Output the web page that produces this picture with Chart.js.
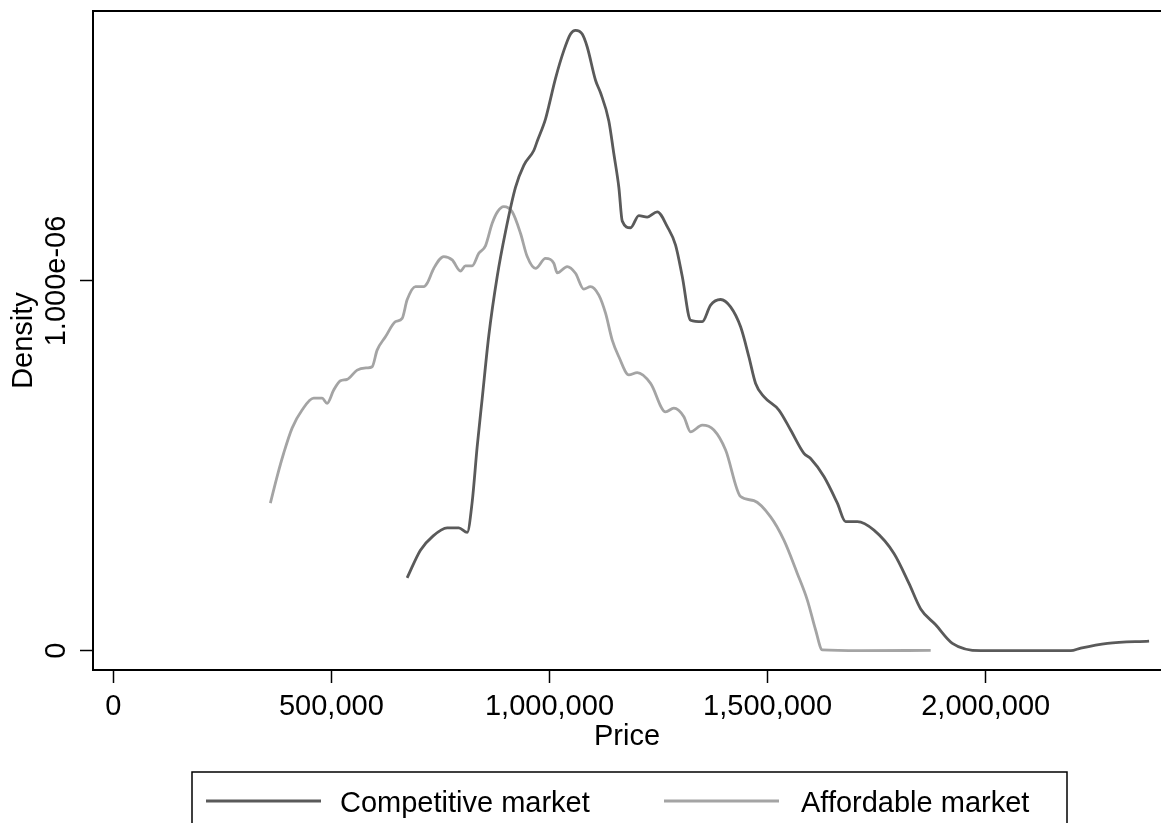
<!DOCTYPE html>
<html>
<head>
<meta charset="utf-8">
<script src="https://cdn.jsdelivr.net/npm/chart.js@4/dist/chart.umd.min.js"></script>
<style>
html, body { margin: 0; padding: 0; background: #ffffff; }
canvas { display: block; }
</style>
</head>
<body>
<canvas id="chart" width="1161" height="823"></canvas>
<script>
// ---- Data ----
const seriesLabels = ['Competitive market', 'Affordable market'];

const competitivePrice = [
  673600, 704100, 731000, 765400, 792000, 811300, 822700, 834200, 845700, 860800,
  880100, 899100, 922000, 941100, 964000, 971800, 990800, 998400, 1013800, 1032800,
  1048200, 1059600, 1075000, 1086500, 1105500, 1117000, 1136000, 1147500, 1159000, 1166800,
  1185800, 1204800, 1224100, 1247000, 1270000, 1289000, 1304400, 1323400, 1350200, 1369300,
  1392200, 1415100, 1438100, 1457100, 1472500, 1491500, 1525900, 1552800, 1583300, 1598600,
  1629100, 1659900, 1678900, 1705800, 1743800, 1789700, 1824100, 1850900, 1885300, 1923600,
  1988600, 2195000, 2217900, 2279100, 2374600
];
// density in units of 1e-6
const competitiveDensity = [
  0.197, 0.272, 0.308, 0.332, 0.332, 0.320, 0.402, 0.552, 0.682, 0.852,
  1.012, 1.133, 1.253, 1.313, 1.353, 1.378, 1.438, 1.473, 1.548, 1.623,
  1.668, 1.678, 1.668, 1.633, 1.543, 1.509, 1.433, 1.344, 1.253, 1.162,
  1.144, 1.177, 1.173, 1.187, 1.147, 1.097, 1.012, 0.894, 0.890, 0.935,
  0.950, 0.930, 0.876, 0.795, 0.723, 0.687, 0.651, 0.597, 0.534, 0.520,
  0.471, 0.399, 0.349, 0.349, 0.326, 0.263, 0.182, 0.113, 0.070, 0.020,
  0.000, 0.000, 0.007, 0.020, 0.026
];

const affordablePrice = [
  360100, 375500, 390600, 409900, 432800, 459400, 478700, 490100, 505300, 520700,
  536000, 559000, 581900, 593400, 604800, 623900, 646800, 662200, 673600, 692700,
  711700, 719500, 734600, 757600, 776800, 795900, 807300, 822700, 837900, 853200,
  868600, 880700, 895200, 914500, 933500, 948900, 967900, 990800, 1009900, 1017700,
  1040600, 1059600, 1078700, 1094000, 1113100, 1128500, 1143800, 1159000, 1181900, 1201200,
  1231700, 1266100, 1285100, 1308000, 1323400, 1350200, 1376800, 1403700, 1438100, 1468600,
  1506900, 1537400, 1568100, 1591100, 1610100, 1625500, 1713300, 1873900
];
// density in units of 1e-6
const affordableDensity = [
  0.399, 0.471, 0.534, 0.602, 0.651, 0.683, 0.683, 0.669, 0.705, 0.730,
  0.734, 0.759, 0.765, 0.768, 0.813, 0.849, 0.890, 0.899, 0.949, 0.985,
  0.985, 0.994, 1.034, 1.066, 1.057, 1.027, 1.041, 1.041, 1.075, 1.095,
  1.156, 1.187, 1.201, 1.187, 1.129, 1.066, 1.034, 1.061, 1.048, 1.022,
  1.039, 1.021, 0.978, 0.985, 0.962, 0.913, 0.840, 0.795, 0.746, 0.752,
  0.723, 0.646, 0.656, 0.633, 0.592, 0.610, 0.597, 0.543, 0.417, 0.406,
  0.362, 0.299, 0.209, 0.137, 0.056, 0.002, 0.000, 0.001
];

const xTickValues = [0, 500000, 1000000, 1500000, 2000000];
const xTickLabels = ['0', '500,000', '1,000,000', '1,500,000', '2,000,000'];
const yTickValues = [0, 1e-6];
const yTickLabels = ['0', '1.000e-06'];

// ---- Chart ----
const DENSITY_UNIT = 1e-6;
const toPoints = (xs, ys) => xs.map((x, i) => ({ x: x, y: ys[i] * DENSITY_UNIT }));
const FONT = "'Liberation Sans', Arial, Helvetica, sans-serif";
const COLORS = ['#5a5a5a', '#a4a4a4'];

const framePlugin = {
  id: 'frameAndLegend',
  afterDraw(chart) {
    const { ctx, chartArea } = chart;
    ctx.save();
    // top frame line
    ctx.strokeStyle = '#000';
    ctx.lineWidth = 2;
    ctx.beginPath();
    ctx.moveTo(chartArea.left - 1, chartArea.top);
    ctx.lineTo(chart.width, chartArea.top);
    ctx.stroke();

    // legend box
    const boxW = 875;
    const boxLeft = (chartArea.left + chartArea.right) / 2 - boxW / 2 + 2.5;
    const boxTop = 772;
    ctx.lineWidth = 1.5;
    ctx.strokeStyle = '#000';
    ctx.strokeRect(boxLeft, boxTop, boxW, 120);
    const items = [{ lineX: 14, textX: 148 }, { lineX: 472, textX: 609 }];
    chart.data.datasets.forEach((ds, i) => {
      const it = items[i];
      ctx.strokeStyle = ds.borderColor;
      ctx.lineWidth = 3;
      ctx.beginPath();
      ctx.moveTo(boxLeft + it.lineX, 801);
      ctx.lineTo(boxLeft + it.lineX + 115, 801);
      ctx.stroke();
      ctx.fillStyle = '#000';
      ctx.font = '29px ' + FONT;
      ctx.textBaseline = 'alphabetic';
      ctx.textAlign = 'left';
      ctx.fillText(ds.label, boxLeft + it.textX, 811.5);
    });
    ctx.restore();
  }
};

new Chart(document.getElementById('chart'), {
  type: 'line',
  data: {
    datasets: [
      {
        label: seriesLabels[0],
        data: toPoints(competitivePrice, competitiveDensity),
        borderColor: COLORS[0],
        borderWidth: 2.8,
        pointRadius: 0,
        fill: false,
        cubicInterpolationMode: 'monotone'
      },
      {
        label: seriesLabels[1],
        data: toPoints(affordablePrice, affordableDensity),
        borderColor: COLORS[1],
        borderWidth: 2.8,
        pointRadius: 0,
        fill: false,
        cubicInterpolationMode: 'monotone'
      }
    ]
  },
  options: {
    responsive: false,
    animation: false,
    devicePixelRatio: 1,
    layout: { padding: { top: 11, right: 0, bottom: 72, left: 0 } },
    plugins: {
      legend: { display: false },
      tooltip: { enabled: false }
    },
    scales: {
      x: {
        type: 'linear',
        min: -46540,
        max: 2401880,
        afterBuildTicks: (s) => { s.ticks = xTickValues.map(v => ({ value: v })); },
        afterFit: (s) => { s.height = 81; },
        ticks: {
          callback: (v, i) => xTickLabels[i],
          color: '#000',
          font: { family: FONT, size: 29, lineHeight: 1 },
          padding: 9,
          maxRotation: 0,
          minRotation: 0,
          autoSkip: false
        },
        grid: {
          drawOnChartArea: false,
          drawTicks: true,
          tickLength: 13,
          tickColor: '#000',
          tickWidth: 1.5
        },
        border: { display: true, color: '#000', width: 2 },
        title: {
          display: true,
          text: 'Price',
          color: '#000',
          font: { family: FONT, size: 29, lineHeight: 1 },
          padding: { top: 0, bottom: 0 }
        }
      },
      y: {
        type: 'linear',
        min: -0.0522e-6,
        max: 1.7303e-6,
        afterBuildTicks: (s) => { s.ticks = yTickValues.map(v => ({ value: v })); },
        afterFit: (s) => { s.width = 93; },
        ticks: {
          callback: (v, i) => yTickLabels[i],
          color: '#000',
          font: { family: FONT, size: 29, lineHeight: 1 },
          minRotation: 90,
          maxRotation: 90,
          crossAlign: 'center',
          padding: -42,
          autoSkip: false
        },
        grid: {
          drawOnChartArea: false,
          drawTicks: true,
          tickLength: 13,
          tickColor: '#000',
          tickWidth: 1.5
        },
        border: { display: true, color: '#000', width: 2 },
        title: {
          display: true,
          text: 'Density',
          color: '#000',
          font: { family: FONT, size: 29, lineHeight: 1 },
          padding: { top: 9, bottom: 0 }
        }
      }
    }
  },
  plugins: [framePlugin]
});
</script>
</body>
</html>
